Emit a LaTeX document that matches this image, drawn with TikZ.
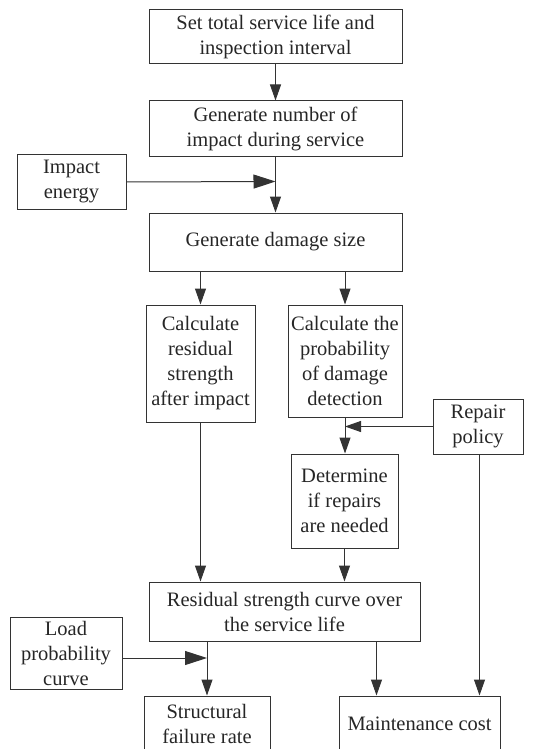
\documentclass[tikz,border=0pt]{standalone}
\usepackage{fontspec}
\setmainfont{Liberation Serif}
\usetikzlibrary{arrows.meta}

\begin{document}
\begin{tikzpicture}[x=1pt, y=-1pt,
    box/.style={draw=black!80, line width=1pt, rectangle, align=center, inner sep=1pt,
        text=black!85, font=\fontsize{20.5}{25}\selectfont},
    arr/.style={-{Triangle[length=16pt, width=11pt]}, line width=1pt, draw=black!80},
    bigarr/.style={-{Triangle[length=22pt, width=14pt]}, line width=1pt, draw=black!80}]
    \useasboundingbox (0,0) rectangle (535,749);
    % main column
    \node[box, minimum width=253pt, minimum height=54pt](set) at (275.5,37){Set total service life and\\inspection interval};
    \node[box, minimum width=253pt, minimum height=55pt](gen) at (275.5,128.5){Generate number of\\impact during service};
    \node[box, minimum width=109pt, minimum height=55pt](energy) at (71.5,181.5){Impact\\energy};
    \node[box, minimum width=253pt, minimum height=58pt](dmg) at (275.5,242){Generate damage size};
    \node[box, minimum width=109pt, minimum height=117pt](res) at (200.5,363.5){Calculate\\residual\\strength\\after impact};
    \node[box, minimum width=114pt, minimum height=112pt](prob) at (345,361){Calculate the\\probability\\of damage\\detection};
    \node[box, minimum width=90pt, minimum height=55pt](policy) at (478,426.5){Repair\\policy};
    \node[box, minimum width=107pt, minimum height=94pt](need) at (344.5,501){Determine\\if repairs\\are needed};
    \node[box, minimum width=271pt, minimum height=59pt](curve) at (284.5,611.5){Residual strength curve over\\the service life};
    \node[box, minimum width=112pt, minimum height=72pt](load) at (66,653){Load\\probability\\curve};
    \node[box, minimum width=126pt, minimum height=56pt](fail) at (207,724){Structural\\failure rate};
    \node[box, minimum width=161pt, minimum height=56pt](cost) at (419.5,724){Maintenance cost};
    % joints
    \coordinate (j1) at (gen.south |- energy.east);
    \coordinate (j2) at (prob.south |- policy.west);
    \coordinate (j3) at ([yshift=-5pt]fail.north |- load.east);
    \coordinate (costin) at ([xshift=-43pt]cost.north);
    \coordinate (costpol) at ([xshift=60pt]cost.north);
    % connectors
    \draw[arr](set.south)--(gen.north);
    \draw[arr](gen.south)--(dmg.north);
    \draw[bigarr]([yshift=-0.5pt]energy.east)--(j1);
    \draw[arr](dmg.south -| res.north)--(res.north);
    \draw[arr](dmg.south -| prob.north)--(prob.north);
    \draw[arr](prob.south)--(need.north -| prob.south);
    \draw[arr](policy.west)--(j2);
    \draw[arr](res.south)--(curve.north -| res.south);
    \draw[arr](need.south)--(curve.north -| need.south);
    \draw[arr](curve.south -| fail.north)--(fail.north);
    \draw[bigarr]([yshift=-5pt]load.east)--(j3);
    \draw[arr](costin |- curve.south)--(costin);
    \draw[arr](costpol |- policy.south)--(costpol);
\end{tikzpicture}
\end{document}
